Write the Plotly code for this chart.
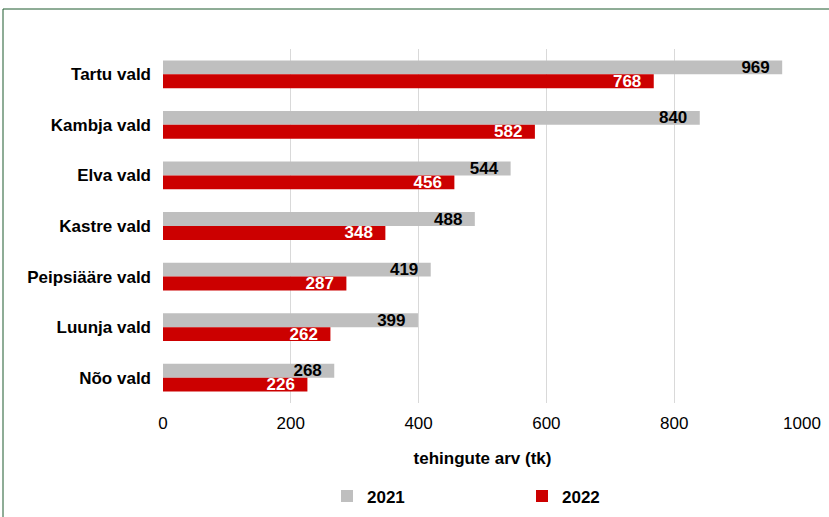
import plotly.graph_objects as go

categories = ['Tartu vald', 'Kambja vald', 'Elva vald', 'Kastre vald',
              'Peipsiääre vald', 'Luunja vald', 'Nõo vald']
values_2021 = [969, 840, 544, 488, 419, 399, 268]
values_2022 = [768, 582, 456, 348, 287, 262, 226]
x_ticks = [0, 200, 400, 600, 800, 1000]

# plot area in px: x 163..802, y 49..403
L, R, T, B = 163, 802, 49, 403
W, H = R - L, B - T

def px_x(p):
    return (p - L) / W

def px_y(p):
    return (B - p) / H

pad = '\u00a0\u00a0'

fig = go.Figure()
fig.add_trace(go.Bar(y=categories, x=values_2021, name='2021', orientation='h',
                     marker=dict(color='#bfbfbf', line=dict(width=0)),
                     text=[str(v) + pad for v in values_2021], textposition='inside',
                     insidetextanchor='end', textangle=0, constraintext='none',
                     textfont=dict(color='black', size=17, family='Liberation Sans', weight='bold')))
fig.add_trace(go.Bar(y=categories, x=values_2022, name='2022', orientation='h',
                     marker=dict(color='#cc0000', line=dict(width=0)),
                     text=[str(v) + pad for v in values_2022], textposition='inside',
                     insidetextanchor='end', textangle=0, constraintext='none',
                     textfont=dict(color='white', size=17, family='Liberation Sans', weight='bold')))

fig.update_layout(width=829, height=517,
                  barmode='group', bargap=0.45, bargroupgap=0,
                  margin=dict(l=L, r=829 - R, t=T, b=517 - B, autoexpand=False),
                  paper_bgcolor='white', plot_bgcolor='white',
                  font=dict(family='Liberation Sans', size=17, color='black'),
                  legend=dict(orientation='h', x=px_x(327), xanchor='left',
                              y=px_y(496.5), yanchor='middle',
                              entrywidth=150, itemclick=False,
                              font=dict(size=17, weight='bold')),
                  shapes=[dict(type='rect', xref='paper', yref='paper',
                               x0=px_x(3), x1=px_x(850), y0=px_y(540), y1=px_y(9),
                               line=dict(color='#1e5b2e', width=1), layer='below')])
fig.update_xaxes(range=[0, 1000], tickvals=x_ticks, showgrid=True, gridcolor='#d9d9d9',
                 zeroline=False, showline=False, ticks='', ticklabelstandoff=8,
                 automargin=False, tickfont=dict(size=17),
                 title=dict(text='tehingute arv (tk)', standoff=20,
                            font=dict(size=17, weight='bold')))
fig.update_yaxes(autorange='reversed', showgrid=False, ticks='', ticklabelstandoff=11,
                 automargin=False, tickfont=dict(size=17, weight='bold'))

fig.write_html('out.html', config={'displayModeBar': False},
               post_script="document.body.style.margin='0';")
